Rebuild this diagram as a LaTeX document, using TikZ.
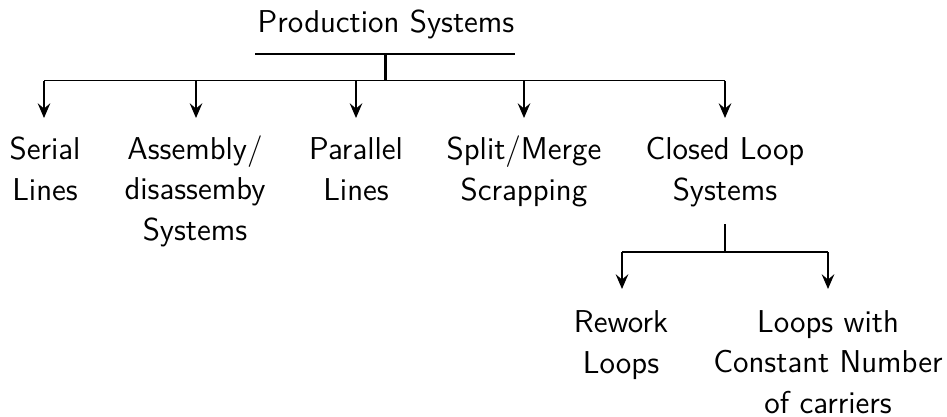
\documentclass[tikz,border=0pt]{standalone}
\usetikzlibrary{arrows.meta}
\begin{document}
\begin{tikzpicture}[x=0.47466pt,y=-0.47466pt,
  lbl/.style={anchor=base,align=center,inner sep=0pt,font=\sffamily\fontsize{15}{19}\selectfont},
  conn/.style={line width=0.8pt},
  arr/.style={conn,-{Stealth[length=7pt,width=6pt,inset=2.5pt]}}]
\useasboundingbox (0,0) rectangle (947,416);
% title
\node[lbl] (title) at (386,32) {Production Systems};
\coordinate (ul) at (255,54);
\coordinate (ur) at (515,54);
\draw[conn] (ul) -- (ur);
\coordinate (tstem) at (385.5,54);
\coordinate (tjoin) at (385.5,80.5);
\draw[line width=1.6pt] (tstem) -- (tjoin);
\coordinate (hl) at (44,80.5);
\coordinate (hr) at (725,80.5);
\draw[conn] (hl) -- (hr);
% children (base anchor = baseline of last line; line pitch 40px)
\node[lbl] (serial) at (45,200) {Serial\\Lines};
\node[lbl] (assembly) at (195,240) {Assembly/\\disassemby\\Systems};
\node[lbl] (parallel) at (356,200) {Parallel\\Lines};
\node[lbl] (split) at (524,200) {Split/Merge\\Scrapping};
\node[lbl] (closed) at (725,200) {Closed Loop\\Systems};
\foreach \x/\n in {44/a,196/b,356/c,524/d,725/e}{
  \coordinate (s\n) at (\x,80.5);
  \coordinate (t\n) at (\x,118);
  \draw[arr] (s\n) -- (t\n);
}
% closed loop subtree
\coordinate (cstem) at (725,224);
\coordinate (cjoin) at (725,252);
\draw[conn] (cstem) -- (cjoin);
\coordinate (cl) at (622,252);
\coordinate (cr) at (828,252);
\draw[conn] (cl) -- (cr);
\coordinate (ctl) at (622,289);
\coordinate (ctr) at (828,289);
\draw[arr] (cl) -- (ctl);
\draw[arr] (cr) -- (ctr);
\node[lbl] (rework) at (621,373) {Rework\\Loops};
\node[lbl] (loops) at (828,413) {Loops with\\Constant Number\\of carriers};
\end{tikzpicture}
\end{document}
